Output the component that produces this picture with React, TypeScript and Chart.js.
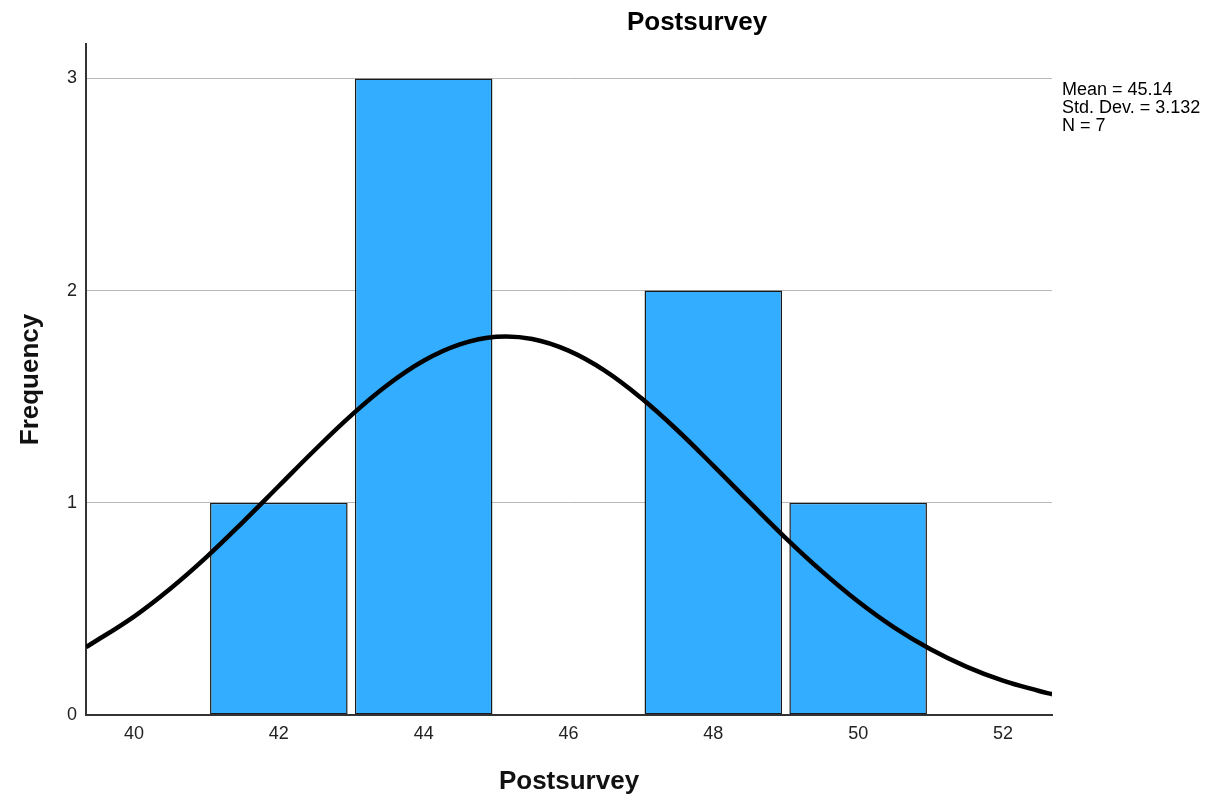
import React, { useEffect, useRef } from "react";
import { Chart, registerables } from "chart.js";

Chart.register(...registerables);

// Histogram bins (bin centres) and frequencies
const binCenters = [42, 44, 46, 48, 50];
const frequencies = [1, 3, 0, 2, 1];

// Normal curve
const curveX = [39.34, 40, 40.5, 41, 41.5, 42, 42.5, 43, 43.5, 44, 44.5, 45, 45.5, 46, 46.5, 47, 47.5, 48, 48.5, 49, 49.5, 50, 50.5, 51, 51.5, 52, 52.5, 52.68];
const curveY = [0.32, 0.464, 0.595, 0.744, 0.908, 1.079, 1.25, 1.412, 1.555, 1.669, 1.746, 1.782, 1.772, 1.717, 1.623, 1.495, 1.343, 1.175, 1.003, 0.834, 0.677, 0.535, 0.412, 0.31, 0.227, 0.162, 0.113, 0.098];

const xTicks = [40, 42, 44, 46, 48, 50, 52];
const yTicks = [0, 1, 2, 3];

const chartTitle = "Postsurvey";
const xTitle = "Postsurvey";
const yTitle = "Frequency";
const statsLines = ["Mean = 45.14", "Std. Dev. = 3.132", "N = 7"];

const FONT = '"Liberation Sans", Arial, sans-serif';

export default function App() {
  const ref = useRef<HTMLCanvasElement | null>(null);

  useEffect(() => {
    document.body.style.margin = "0";
    const canvas = ref.current;
    if (!canvas) return;

    const textPlugin = {
      id: "textPlugin",
      afterDraw(chart: any) {
        const ctx = chart.ctx;
        ctx.save();
        ctx.fillStyle = "#000";
        ctx.font = `bold 26px ${FONT}`;
        ctx.textAlign = "center";
        ctx.textBaseline = "middle";
        ctx.fillText(chartTitle, 697, 23);
        ctx.font = `18px ${FONT}`;
        ctx.textAlign = "left";
        ctx.textBaseline = "alphabetic";
        ctx.fillStyle = "#000";
        statsLines.forEach((s, i) => ctx.fillText(s, 1062, 95 + i * 18));
        ctx.restore();
      },
    };

    const chart = new Chart(canvas, {
      type: "bar",
      data: {
        datasets: [
          {
            type: "line",
            data: curveX.map((x, i) => ({ x, y: curveY[i] })),
            borderColor: "#000",
            borderWidth: 4.5,
            pointRadius: 0,
            tension: 0.4,
            fill: false,
            order: 0,
          } as any,
          {
            type: "bar",
            data: binCenters.map((x, i) => ({ x, y: frequencies[i] })),
            backgroundColor: "#33adff",
            borderColor: "#1a1a1a",
            borderWidth: 1.5,
            borderSkipped: false,
            barPercentage: 0.95,
            categoryPercentage: 1,
            order: 1,
          } as any,
        ],
      },
      options: {
        responsive: false,
        animation: false,
        layout: { padding: { top: 44, right: 170, left: 0, bottom: 0 } },
        plugins: {
          legend: { display: false },
          tooltip: { enabled: false },
          title: { display: false },
        },
        scales: {
          x: {
            type: "linear",
            min: 39.337,
            max: 52.677,
            offset: false,
            afterFit: (s: any) => {
              s.height = 87;
            },
            afterBuildTicks: (s: any) => {
              s.ticks = xTicks.map((v) => ({ value: v }));
            },
            grid: { display: true, drawOnChartArea: false, drawTicks: false },
            border: { display: true, color: "#333", width: 2, z: 1 },
            ticks: {
              padding: 8,
              color: "#222",
              font: { family: FONT, size: 18 },
              callback: (v: any) => String(v),
            },
            title: {
              display: true,
              text: xTitle,
              color: "#111",
              font: { family: FONT, size: 26, weight: "bold" },
              padding: { top: 0, bottom: 5 },
            },
          },
          y: {
            type: "linear",
            min: 0,
            max: 3.162,
            afterFit: (s: any) => {
              s.width = 86;
            },
            afterBuildTicks: (s: any) => {
              s.ticks = yTicks.map((v) => ({ value: v }));
            },
            grid: { color: "#b8b8b8", lineWidth: 1, drawTicks: false },
            border: { display: true, color: "#333", width: 2 },
            ticks: {
              padding: 9,
              color: "#222",
              font: { family: FONT, size: 18 },
              callback: (v: any) => String(v),
            },
            title: {
              display: true,
              text: yTitle,
              color: "#111",
              font: { family: FONT, size: 26, weight: "bold" },
              padding: { top: 15, bottom: 0 },
            },
          },
        },
      },
      plugins: [textPlugin],
    } as any);

    return () => chart.destroy();
  }, []);

  return <canvas ref={ref} width={1222} height={802} style={{ display: "block" }} />;
}
